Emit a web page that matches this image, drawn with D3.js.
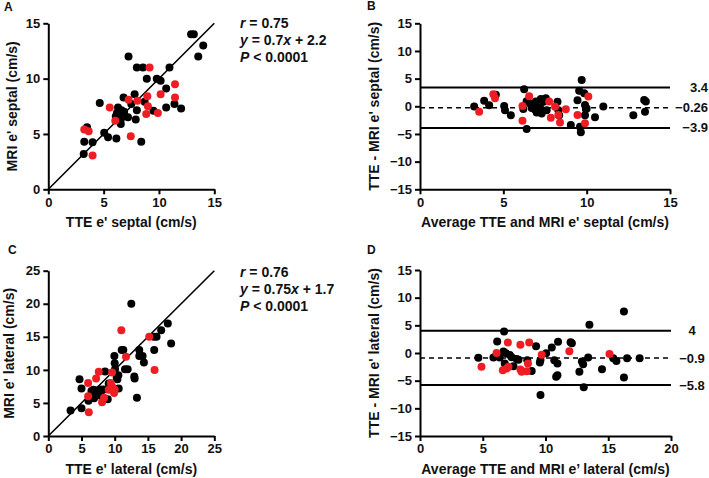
<!DOCTYPE html>
<html><head><meta charset="utf-8">
<script src="https://cdn.jsdelivr.net/npm/d3@7"></script>
<style>html,body{margin:0;padding:0;background:#fff;}</style>
</head><body>
<script>
// ---------- DATA ----------
const septalBlack = [[3.2,3.2],[3.25,4.3],[3.5,5.6],[4.0,4.25],[4.65,7.8],[5.05,5.1],[5.4,4.7],[6.15,4.6],[6.2,6.7],[6.3,7.4],[6.6,7.15],[6.2,6.9],[6.5,6.85],[6.85,7.0],[6.8,6.6],[6.1,6.6],[6.55,6.3],[6.55,5.9],[7.2,6.5],[7.9,6.3],[6.8,8.3],[7.25,12.0],[7.5,7.7],[7.8,8.6],[8.0,11.0],[8.0,7.15],[8.55,11.0],[8.4,4.3],[8.7,7.9],[8.9,10.0],[9.5,7.1],[9.8,10.0],[10.15,9.8],[10.65,9.1],[10.65,7.4],[10.95,11.0],[11.4,7.7],[12.0,7.3],[12.9,14.0],[13.15,14.0],[13.55,12.0],[14.0,13.0]];
const septalRed = [[3.25,5.4],[3.65,5.25],[4.0,3.05],[5.55,7.4],[6.05,6.2],[7.45,4.8],[7.25,8.1],[8.05,8.0],[9.15,11.0],[8.95,8.4],[9.0,7.5],[8.85,6.8],[9.9,6.9],[10.15,8.6],[11.45,9.5],[11.45,8.3]];
const septalBABlack = [[3.25,-0.05],[3.85,1.0],[4.15,0.2],[4.55,2.1],[5.05,0.05],[5.1,-0.7],[5.45,-1.6],[6.25,3.1],[6.4,-4.1],[6.2,-0.5],[6.4,0.9],[6.6,0.5],[6.95,0.85],[7.0,-0.1],[6.7,-0.3],[6.9,-0.6],[7.15,-0.6],[7.0,-1.1],[7.3,-1.3],[7.25,1.3],[7.4,0.8],[7.2,-0.2],[7.55,1.45],[7.6,-0.7],[8.25,0.8],[8.3,-0.7],[8.35,-1.6],[9.05,-3.4],[9.45,1.1],[9.55,2.8],[9.7,4.75],[9.85,2.35],[9.9,0.25],[9.95,-0.5],[9.9,-1.6],[9.6,-3.7],[9.65,-4.7],[10.0,-0.4],[10.5,-2.0],[11.0,-0.05],[12.8,-1.6],[13.45,1.15],[13.55,0.85],[13.5,-1.0]];
const septalBARed = [[3.55,-1.0],[4.4,2.2],[4.5,1.45],[6.15,0.05],[6.15,-2.6],[6.55,1.8],[7.75,0.85],[8.1,-0.1],[7.85,-2.05],[8.3,-1.55],[8.4,-2.95],[8.75,-0.55],[9.45,-1.55],[10.1,1.75],[9.9,-3.05]];
const lateralBlack = [[3.35,3.85],[4.7,8.6],[5.0,7.2],[5.0,4.2],[6.05,5.35],[6.5,6.8],[6.9,5.7],[7.3,6.9],[7.8,7.05],[8.3,7.05],[6.8,7.0],[7.5,6.5],[8.0,6.0],[7.2,6.3],[8.55,9.75],[8.95,5.55],[9.1,7.95],[9.3,7.2],[9.95,12.1],[10.0,11.0],[10.05,10.1],[10.3,8.8],[10.4,8.6],[10.55,9.2],[10.6,7.2],[11.05,13.0],[11.3,13.0],[11.55,10.1],[11.95,10.1],[12.5,20.0],[12.95,9.0],[13.0,8.7],[13.35,5.8],[13.7,13.0],[13.7,12.1],[14.2,12.1],[14.4,11.1],[15.9,15.0],[16.3,15.0],[15.95,13.0],[17.0,16.0],[18.0,17.0],[18.5,14.0]];
const lateralRed = [[6.0,8.0],[6.0,6.0],[6.1,3.6],[7.2,8.7],[7.6,9.7],[8.1,5.1],[8.4,5.8],[9.6,9.6],[9.4,8.0],[9.6,7.5],[10.0,7.0],[9.1,7.0],[9.9,6.5],[11.0,16.0],[11.7,12.0],[15.2,15.0],[16.0,10.0]];
const lateralBABlack = [[4.65,-0.85],[5.85,-0.8],[6.15,2.1],[6.35,-0.8],[6.7,3.9],[6.65,0.25],[6.85,-0.05],[7.15,-0.35],[7.3,-0.75],[6.75,-1.9],[7.45,-2.4],[7.7,-1.1],[7.85,-1.2],[8.55,-1.3],[8.9,-3.25],[9.25,1.2],[9.55,-1.7],[9.6,-1.25],[9.6,-7.6],[10.05,-0.05],[10.5,1.0],[10.7,-1.3],[10.95,-1.9],[10.95,-4.0],[10.85,-4.3],[11.0,2.05],[12.0,1.95],[12.1,1.75],[12.7,-3.4],[12.9,-1.55],[13.0,-2.05],[13.05,-6.2],[13.4,-0.8],[13.5,5.1],[14.5,-2.95],[15.4,-0.95],[15.65,-1.45],[16.25,7.5],[16.25,-4.45],[16.5,-0.95],[17.5,-0.95]];
const lateralBARed = [[4.9,-2.5],[6.1,0.0],[7.0,1.9],[6.6,-3.1],[6.9,-2.8],[7.05,-2.5],[8.0,1.5],[8.7,1.9],[8.0,-3.0],[8.1,-3.4],[8.6,-1.9],[8.5,-3.3],[9.7,-0.3],[11.9,0.3],[15.1,-0.2]];

const septalLimits = [3.4, -0.26, -3.9];
const septalLimitLabels = ["3.4", "\u22120.26", "\u22123.9"];
const lateralLimits = [4, -0.9, -5.8];
const lateralLimitLabels = ["4", "\u22120.9", "\u22125.8"];

const ticksA = [0,5,10,15];
const ticksC = [0,5,10,15,20,25];
const ticksBAy = [-15,-10,-5,0,5,10,15];
const ticksDx = [0,5,10,15,20];

const statsSeptal = {r:"0.75", slope:"0.7", icpt:"2.2", p:"0.0001"};
const statsLateral = {r:"0.76", slope:"0.75", icpt:"1.7", p:"0.0001"};

// ---------- DRAW ----------
const FONT = "'Liberation Sans', Arial, Helvetica, sans-serif";
const RED = "#ee1d23";
const svg = d3.select("body").append("svg").attr("width",709).attr("height",478)
  .style("font-family", FONT);
svg.append("rect").attr("width",709).attr("height",478).attr("fill","#fff");

function panel(cfg){
  const x = d3.scaleLinear().domain(cfg.xd).range([cfg.l, cfg.r]);
  const y = d3.scaleLinear().domain(cfg.yd).range([cfg.b, cfg.t]);
  const g = svg.append("g");

  if (cfg.identity) {
    const m = cfg.xd[1];
    g.append("line").attr("x1",x(0)).attr("y1",y(0)).attr("x2",x(m)).attr("y2",y(m))
      .attr("stroke","#000").attr("stroke-width",1.6);
  }
  if (cfg.limits) {
    cfg.limits.forEach((v,i)=>{
      g.append("line").attr("x1",x(cfg.xd[0])).attr("x2",x(cfg.xd[1]))
        .attr("y1",y(v)).attr("y2",y(v))
        .attr("stroke","#000").attr("stroke-width", i===1?1.5:2)
        .attr("stroke-dasharray", i===1?"5,4":null);
      g.append("text").attr("x", cfg.limAnchor==="end"?708:692).attr("y",y(v)).attr("dy","0.35em")
        .attr("text-anchor",cfg.limAnchor).attr("font-size",13).attr("font-weight","bold")
        .attr("fill","#111").text(cfg.limLabels[i]);
    });
  }
  g.append("g").selectAll("circle").data(cfg.black).join("circle")
    .attr("cx",d=>x(d[0])).attr("cy",d=>y(d[1])).attr("r",4).attr("fill","#000");
  g.append("g").selectAll("circle").data(cfg.red).join("circle")
    .attr("cx",d=>x(d[0])).attr("cy",d=>y(d[1])).attr("r",4).attr("fill",RED);

  const xa = g.append("g").attr("transform",`translate(0,${cfg.b})`)
    .call(d3.axisBottom(x).tickValues(cfg.xt).tickSize(5).tickSizeOuter(0).tickPadding(3).tickFormat(d3.format("d")));
  const ya = g.append("g").attr("transform",`translate(${cfg.l},0)`)
    .call(d3.axisLeft(y).tickValues(cfg.yt).tickSize(5).tickSizeOuter(0).tickPadding(3).tickFormat(d3.format("d")));
  [xa,ya].forEach(a=>{
    a.select(".domain").attr("stroke","#000").attr("stroke-width",2);
    a.selectAll(".tick line").attr("stroke","#000").attr("stroke-width",2);
    a.selectAll(".tick text").attr("font-size",13).attr("font-weight","bold")
      .attr("fill","#111").attr("font-family",FONT);
  });

  g.append("text").attr("x",(cfg.l+cfg.r)/2).attr("y",cfg.b+38).attr("text-anchor","middle")
    .attr("font-size",14).attr("font-weight","bold").attr("fill","#111").text(cfg.xTitle);
  g.append("text").attr("transform",`translate(${cfg.yTitleX},${(cfg.t+cfg.b)/2}) rotate(-90)`)
    .attr("text-anchor","middle").attr("font-size",14).attr("font-weight","bold").attr("fill","#111")
    .text(cfg.yTitle);
  g.append("text").attr("x",cfg.letterX).attr("y",cfg.letterY).attr("font-size",12)
    .attr("font-weight","bold").attr("fill","#111").text(cfg.letter);

  if (cfg.stats) {
    const s = cfg.stats, bx = 240, by = cfg.statsY;
    const t1 = g.append("text").attr("x",bx).attr("y",by).attr("font-size",14).attr("font-weight","bold").attr("fill","#111");
    t1.append("tspan").attr("font-style","italic").text("r");
    t1.append("tspan").text(" = " + s.r);
    const t2 = g.append("text").attr("x",bx).attr("y",by+17).attr("font-size",14).attr("font-weight","bold").attr("fill","#111");
    t2.append("tspan").attr("font-style","italic").text("y");
    t2.append("tspan").text(" = " + s.slope);
    t2.append("tspan").attr("font-style","italic").text("x");
    t2.append("tspan").text(" + " + s.icpt);
    const t3 = g.append("text").attr("x",bx).attr("y",by+34).attr("font-size",14).attr("font-weight","bold").attr("fill","#111");
    t3.append("tspan").attr("font-style","italic").text("P");
    t3.append("tspan").text(" < " + s.p);
  }
}

panel({letter:"A", letterX:4, letterY:11, l:48.3, r:214.3, t:23.3, b:189.3, xd:[0,15], yd:[0,15],
  xt:ticksA, yt:ticksA, black:septalBlack, red:septalRed, identity:true,
  xTitle:"TTE e' septal (cm/s)", yTitle:"MRI e' septal (cm/s)", yTitleX:17,
  stats:statsSeptal, statsY:28});
panel({letter:"B", letterX:367, letterY:10, l:420, r:670, t:23.3, b:189.3, xd:[0,15], yd:[-15,15],
  xt:ticksA, yt:ticksBAy, black:septalBABlack, red:septalBARed,
  limits:septalLimits, limLabels:septalLimitLabels, limAnchor:"end",
  xTitle:"Average TTE and MRI e' septal (cm/s)", yTitle:"TTE - MRI e' septal (cm/s)", yTitleX:379});
panel({letter:"C", letterX:8, letterY:254, l:48.3, r:214.3, t:270.7, b:436, xd:[0,25], yd:[0,25],
  xt:ticksC, yt:ticksC, black:lateralBlack, red:lateralRed, identity:true,
  xTitle:"TTE e' lateral (cm/s)", yTitle:"MRI e' lateral (cm/s)", yTitleX:14,
  stats:statsLateral, statsY:277});
panel({letter:"D", letterX:367, letterY:254, l:420, r:671, t:270, b:436, xd:[0,20], yd:[-15,15],
  xt:ticksDx, yt:ticksBAy, black:lateralBABlack, red:lateralBARed,
  limits:lateralLimits, limLabels:lateralLimitLabels, limAnchor:"middle",
  xTitle:"Average TTE and MRI e\u2019 lateral (cm/s)", yTitle:"TTE - MRI e' lateral (cm/s)", yTitleX:379});
</script>
</body></html>
